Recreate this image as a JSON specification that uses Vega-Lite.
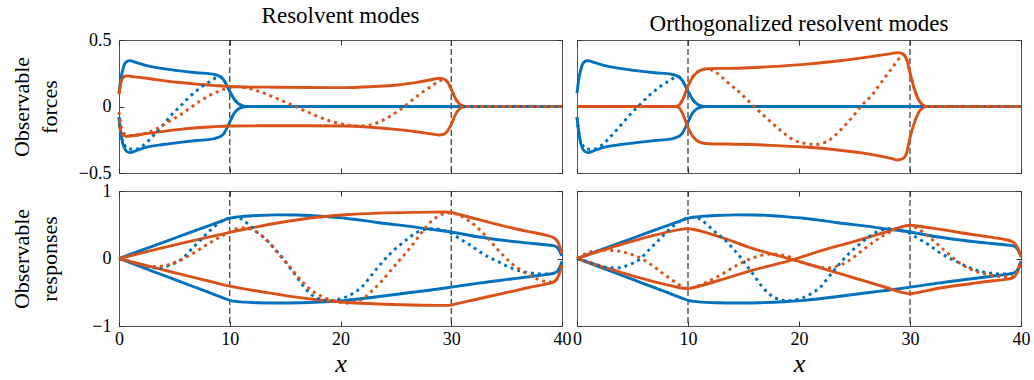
{
  "$schema": "https://vega.github.io/schema/vega-lite/v6.json",
  "background": "white",
  "padding": {"left": 9, "top": 4, "right": 5, "bottom": 0},
  "config": {
    "font": "Liberation Serif, Times New Roman, Times, serif",
    "view": {"stroke": "#555555", "strokeWidth": 1},
    "title": {"font": "Liberation Serif, Times New Roman, Times, serif", "fontSize": 23, "fontWeight": "normal", "color": "#000000", "offset": 3},
    "axis": {
      "domain": false, "grid": false,
      "tickColor": "#333333", "tickSize": -5, "tickWidth": 1,
      "labelFont": "Liberation Serif, Times New Roman, Times, serif", "labelFontSize": 18, "labelColor": "#000000", "labelPadding": 13,
      "labelOverlap": false, "labelFlush": false,
      "titleFont": "Liberation Serif, Times New Roman, Times, serif", "titleFontSize": 22, "titleFontWeight": "normal", "titleColor": "#000000", "titleLineHeight": 28
    },
    "line": {"strokeWidth": 2.9, "strokeCap": "butt", "strokeJoin": "round", "interpolate": "monotone"}
  },
  "datasets": {
    "vl": [{"x": 10}, {"x": 30}],
    "fb": [
      {"s":"u","x":0,"y":0.1},{"s":"u","x":0.15,"y":0.2},{"s":"u","x":0.35,"y":0.28},{"s":"u","x":0.6,"y":0.33},{"s":"u","x":0.95,"y":0.345},{"s":"u","x":1.5,"y":0.332},{"s":"u","x":2.5,"y":0.307},{"s":"u","x":4,"y":0.285},{"s":"u","x":5.5,"y":0.268},{"s":"u","x":7,"y":0.254},{"s":"u","x":8.5,"y":0.243},{"s":"u","x":9.1,"y":0.226},{"s":"u","x":9.45,"y":0.2},{"s":"u","x":9.7,"y":0.165},{"s":"u","x":10,"y":0.115},{"s":"u","x":10.4,"y":0.055},{"s":"u","x":10.8,"y":0.02},{"s":"u","x":11.2,"y":0.005},{"s":"u","x":11.6,"y":0},{"s":"u","x":40,"y":0},
      {"s":"l","x":0,"y":-0.08},{"s":"l","x":0.15,"y":-0.19},{"s":"l","x":0.35,"y":-0.28},{"s":"l","x":0.6,"y":-0.33},{"s":"l","x":0.95,"y":-0.347},{"s":"l","x":1.5,"y":-0.333},{"s":"l","x":2.5,"y":-0.306},{"s":"l","x":4,"y":-0.286},{"s":"l","x":5.5,"y":-0.27},{"s":"l","x":7,"y":-0.256},{"s":"l","x":8.5,"y":-0.243},{"s":"l","x":9.1,"y":-0.228},{"s":"l","x":9.45,"y":-0.205},{"s":"l","x":9.7,"y":-0.17},{"s":"l","x":10,"y":-0.118},{"s":"l","x":10.4,"y":-0.05},{"s":"l","x":10.8,"y":-0.018},{"s":"l","x":11.2,"y":-0.004},{"s":"l","x":11.6,"y":0},{"s":"l","x":40,"y":0},
      {"s":"d","x":0,"y":-0.08},{"s":"d","x":0.2,"y":-0.22},{"s":"d","x":0.5,"y":-0.29},{"s":"d","x":0.9,"y":-0.32},{"s":"d","x":1.5,"y":-0.322},{"s":"d","x":2.3,"y":-0.285},{"s":"d","x":3.2,"y":-0.21},{"s":"d","x":4,"y":-0.135},{"s":"d","x":4.9,"y":-0.05},{"s":"d","x":5.5,"y":0},{"s":"d","x":6.4,"y":0.075},{"s":"d","x":7.3,"y":0.138},{"s":"d","x":8.2,"y":0.188},{"s":"d","x":9.1,"y":0.226},{"s":"d","x":9.45,"y":0.2},{"s":"d","x":9.7,"y":0.165},{"s":"d","x":10,"y":0.115},{"s":"d","x":10.4,"y":0.055},{"s":"d","x":10.8,"y":0.02},{"s":"d","x":11.2,"y":0.005},{"s":"d","x":11.6,"y":0},{"s":"d","x":40,"y":0}
    ],
    "fo1": [
      {"s":"u","x":0,"y":0.09},{"s":"u","x":0.2,"y":0.19},{"s":"u","x":0.45,"y":0.225},{"s":"u","x":0.7,"y":0.23},{"s":"u","x":1.2,"y":0.225},{"s":"u","x":2.5,"y":0.212},{"s":"u","x":4,"y":0.195},{"s":"u","x":5.5,"y":0.18},{"s":"u","x":7,"y":0.168},{"s":"u","x":8.5,"y":0.159},{"s":"u","x":10,"y":0.15},{"s":"u","x":12,"y":0.146},{"s":"u","x":14.3,"y":0.145},{"s":"u","x":17,"y":0.143},{"s":"u","x":20.4,"y":0.142},{"s":"u","x":23,"y":0.15},{"s":"u","x":25,"y":0.16},{"s":"u","x":27,"y":0.183},{"s":"u","x":28.3,"y":0.203},{"s":"u","x":28.9,"y":0.212},{"s":"u","x":29.3,"y":0.208},{"s":"u","x":29.65,"y":0.185},{"s":"u","x":30,"y":0.13},{"s":"u","x":30.35,"y":0.065},{"s":"u","x":30.7,"y":0.022},{"s":"u","x":31,"y":0.006},{"s":"u","x":31.3,"y":0},{"s":"u","x":40,"y":0},
      {"s":"l","x":0,"y":-0.12},{"s":"l","x":0.2,"y":-0.2},{"s":"l","x":0.45,"y":-0.22},{"s":"l","x":0.7,"y":-0.225},{"s":"l","x":1.2,"y":-0.22},{"s":"l","x":2.5,"y":-0.204},{"s":"l","x":4,"y":-0.187},{"s":"l","x":5.5,"y":-0.172},{"s":"l","x":7,"y":-0.16},{"s":"l","x":8.5,"y":-0.152},{"s":"l","x":10,"y":-0.147},{"s":"l","x":14,"y":-0.145},{"s":"l","x":20.4,"y":-0.147},{"s":"l","x":23,"y":-0.158},{"s":"l","x":25,"y":-0.172},{"s":"l","x":27,"y":-0.192},{"s":"l","x":28.3,"y":-0.207},{"s":"l","x":28.9,"y":-0.214},{"s":"l","x":29.3,"y":-0.21},{"s":"l","x":29.65,"y":-0.185},{"s":"l","x":30,"y":-0.135},{"s":"l","x":30.35,"y":-0.065},{"s":"l","x":30.7,"y":-0.022},{"s":"l","x":31,"y":-0.006},{"s":"l","x":31.3,"y":0},{"s":"l","x":40,"y":0},
      {"s":"d","x":0,"y":-0.04},{"s":"d","x":0.15,"y":-0.13},{"s":"d","x":0.35,"y":-0.19},{"s":"d","x":0.7,"y":-0.215},{"s":"d","x":1.2,"y":-0.218},{"s":"d","x":1.9,"y":-0.212},{"s":"d","x":2.8,"y":-0.19},{"s":"d","x":3.7,"y":-0.154},{"s":"d","x":4.6,"y":-0.109},{"s":"d","x":5.5,"y":-0.064},{"s":"d","x":6.4,"y":-0.012},{"s":"d","x":7.3,"y":0.04},{"s":"d","x":8.2,"y":0.084},{"s":"d","x":9.1,"y":0.118},{"s":"d","x":10,"y":0.142},{"s":"d","x":10.6,"y":0.15},{"s":"d","x":11.3,"y":0.143},{"s":"d","x":12.8,"y":0.109},{"s":"d","x":14.3,"y":0.059},{"s":"d","x":15.8,"y":0.004},{"s":"d","x":17.3,"y":-0.051},{"s":"d","x":18.9,"y":-0.105},{"s":"d","x":20.4,"y":-0.137},{"s":"d","x":21.5,"y":-0.147},{"s":"d","x":22.5,"y":-0.142},{"s":"d","x":24,"y":-0.096},{"s":"d","x":25.2,"y":-0.034},{"s":"d","x":25.8,"y":0.002},{"s":"d","x":27,"y":0.084},{"s":"d","x":28.2,"y":0.152},{"s":"d","x":29,"y":0.195},{"s":"d","x":29.35,"y":0.205},{"s":"d","x":29.65,"y":0.185},{"s":"d","x":30,"y":0.13},{"s":"d","x":30.35,"y":0.065},{"s":"d","x":30.7,"y":0.022},{"s":"d","x":31,"y":0.006},{"s":"d","x":31.3,"y":0},{"s":"d","x":40,"y":0}
    ],
    "fo2": [
      {"s":"u","x":0,"y":0},{"s":"u","x":8.9,"y":0},{"s":"u","x":9.2,"y":0.01},{"s":"u","x":9.6,"y":0.066},{"s":"u","x":10,"y":0.154},{"s":"u","x":10.5,"y":0.23},{"s":"u","x":11.1,"y":0.272},{"s":"u","x":11.8,"y":0.285},{"s":"u","x":14.5,"y":0.288},{"s":"u","x":17.5,"y":0.3},{"s":"u","x":20.5,"y":0.317},{"s":"u","x":23.5,"y":0.342},{"s":"u","x":26.5,"y":0.375},{"s":"u","x":28.3,"y":0.398},{"s":"u","x":28.9,"y":0.405},{"s":"u","x":29.3,"y":0.398},{"s":"u","x":29.7,"y":0.355},{"s":"u","x":30,"y":0.254},{"s":"u","x":30.45,"y":0.117},{"s":"u","x":30.9,"y":0.034},{"s":"u","x":31.5,"y":0},{"s":"u","x":40,"y":0},
      {"s":"l","x":0,"y":0},{"s":"l","x":8.9,"y":0},{"s":"l","x":9.2,"y":-0.01},{"s":"l","x":9.6,"y":-0.07},{"s":"l","x":10,"y":-0.158},{"s":"l","x":10.5,"y":-0.233},{"s":"l","x":11.1,"y":-0.27},{"s":"l","x":11.8,"y":-0.28},{"s":"l","x":14.5,"y":-0.284},{"s":"l","x":17.5,"y":-0.292},{"s":"l","x":20.5,"y":-0.305},{"s":"l","x":23.5,"y":-0.327},{"s":"l","x":26.5,"y":-0.36},{"s":"l","x":28.3,"y":-0.39},{"s":"l","x":28.9,"y":-0.402},{"s":"l","x":29.3,"y":-0.395},{"s":"l","x":29.7,"y":-0.347},{"s":"l","x":30,"y":-0.234},{"s":"l","x":30.45,"y":-0.109},{"s":"l","x":30.9,"y":-0.029},{"s":"l","x":31.5,"y":0},{"s":"l","x":40,"y":0},
      {"s":"d","x":0,"y":0},{"s":"d","x":8.9,"y":0},{"s":"d","x":9.2,"y":0.01},{"s":"d","x":9.6,"y":0.066},{"s":"d","x":10,"y":0.154},{"s":"d","x":10.5,"y":0.23},{"s":"d","x":11.1,"y":0.272},{"s":"d","x":11.7,"y":0.283},{"s":"d","x":12.4,"y":0.262},{"s":"d","x":13,"y":0.225},{"s":"d","x":13.6,"y":0.179},{"s":"d","x":14.5,"y":0.117},{"s":"d","x":15.9,"y":0.004},{"s":"d","x":17.2,"y":-0.096},{"s":"d","x":18.4,"y":-0.184},{"s":"d","x":19.6,"y":-0.255},{"s":"d","x":20.5,"y":-0.277},{"s":"d","x":21.5,"y":-0.285},{"s":"d","x":22.6,"y":-0.259},{"s":"d","x":23.8,"y":-0.172},{"s":"d","x":25,"y":-0.059},{"s":"d","x":25.6,"y":0.004},{"s":"d","x":26.5,"y":0.079},{"s":"d","x":27.4,"y":0.179},{"s":"d","x":28.3,"y":0.28},{"s":"d","x":29.1,"y":0.367},{"s":"d","x":29.4,"y":0.39},{"s":"d","x":29.7,"y":0.355},{"s":"d","x":30,"y":0.254},{"s":"d","x":30.45,"y":0.117},{"s":"d","x":30.9,"y":0.034},{"s":"d","x":31.5,"y":0},{"s":"d","x":40,"y":0}
    ],
    "rb": [
      {"s":"u","x":0,"y":0},{"s":"u","x":2,"y":0.12},{"s":"u","x":4,"y":0.24},{"s":"u","x":6,"y":0.36},{"s":"u","x":8,"y":0.48},{"s":"u","x":9.5,"y":0.57},{"s":"u","x":10,"y":0.598},{"s":"u","x":10.5,"y":0.612},{"s":"u","x":11.3,"y":0.625},{"s":"u","x":12.5,"y":0.637},{"s":"u","x":14.3,"y":0.646},{"s":"u","x":16,"y":0.645},{"s":"u","x":17.3,"y":0.638},{"s":"u","x":19,"y":0.617},{"s":"u","x":20.4,"y":0.596},{"s":"u","x":22,"y":0.565},{"s":"u","x":23.5,"y":0.53},{"s":"u","x":26.3,"y":0.475},{"s":"u","x":28,"y":0.435},{"s":"u","x":30,"y":0.393},{"s":"u","x":32.4,"y":0.322},{"s":"u","x":35.4,"y":0.256},{"s":"u","x":37,"y":0.228},{"s":"u","x":38.5,"y":0.203},{"s":"u","x":39.2,"y":0.19},{"s":"u","x":39.55,"y":0.165},{"s":"u","x":39.75,"y":0.12},{"s":"u","x":39.9,"y":0.07},{"s":"u","x":40,"y":0.04},
      {"s":"l","x":0,"y":0},{"s":"l","x":2,"y":-0.124},{"s":"l","x":4,"y":-0.248},{"s":"l","x":6,"y":-0.372},{"s":"l","x":8,"y":-0.496},{"s":"l","x":9.5,"y":-0.59},{"s":"l","x":10,"y":-0.62},{"s":"l","x":10.5,"y":-0.635},{"s":"l","x":11.3,"y":-0.647},{"s":"l","x":12.5,"y":-0.655},{"s":"l","x":14.5,"y":-0.659},{"s":"l","x":16.5,"y":-0.655},{"s":"l","x":19,"y":-0.637},{"s":"l","x":20.5,"y":-0.62},{"s":"l","x":23.5,"y":-0.563},{"s":"l","x":26.5,"y":-0.5},{"s":"l","x":28,"y":-0.47},{"s":"l","x":30,"y":-0.425},{"s":"l","x":32.5,"y":-0.365},{"s":"l","x":35.4,"y":-0.304},{"s":"l","x":37,"y":-0.27},{"s":"l","x":38.5,"y":-0.238},{"s":"l","x":39.2,"y":-0.22},{"s":"l","x":39.55,"y":-0.195},{"s":"l","x":39.75,"y":-0.15},{"s":"l","x":39.9,"y":-0.09},{"s":"l","x":40,"y":-0.05},
      {"s":"d","x":0,"y":0},{"s":"d","x":0.8,"y":-0.04},{"s":"d","x":1.7,"y":-0.09},{"s":"d","x":2.9,"y":-0.135},{"s":"d","x":3.8,"y":-0.138},{"s":"d","x":4.7,"y":-0.09},{"s":"d","x":5.6,"y":-0.017},{"s":"d","x":6.5,"y":0.131},{"s":"d","x":7.4,"y":0.279},{"s":"d","x":8.3,"y":0.427},{"s":"d","x":9.2,"y":0.545},{"s":"d","x":10,"y":0.6},{"s":"d","x":10.6,"y":0.612},{"s":"d","x":11.2,"y":0.57},{"s":"d","x":11.8,"y":0.49},{"s":"d","x":12.4,"y":0.4},{"s":"d","x":13,"y":0.32},{"s":"d","x":13.6,"y":0.23},{"s":"d","x":14.2,"y":0.12},{"s":"d","x":14.8,"y":0.005},{"s":"d","x":15.4,"y":-0.13},{"s":"d","x":16,"y":-0.264},{"s":"d","x":16.6,"y":-0.4},{"s":"d","x":17.2,"y":-0.51},{"s":"d","x":17.8,"y":-0.58},{"s":"d","x":18.4,"y":-0.615},{"s":"d","x":19,"y":-0.627},{"s":"d","x":19.6,"y":-0.612},{"s":"d","x":20.2,"y":-0.59},{"s":"d","x":20.8,"y":-0.546},{"s":"d","x":21.4,"y":-0.49},{"s":"d","x":22,"y":-0.412},{"s":"d","x":22.6,"y":-0.29},{"s":"d","x":23.2,"y":-0.165},{"s":"d","x":23.8,"y":-0.05},{"s":"d","x":24.4,"y":0.057},{"s":"d","x":25,"y":0.15},{"s":"d","x":25.6,"y":0.23},{"s":"d","x":26.2,"y":0.31},{"s":"d","x":26.8,"y":0.378},{"s":"d","x":27.4,"y":0.42},{"s":"d","x":28,"y":0.44},{"s":"d","x":28.6,"y":0.44},{"s":"d","x":29.2,"y":0.42},{"s":"d","x":30,"y":0.37},{"s":"d","x":31,"y":0.27},{"s":"d","x":31.8,"y":0.19},{"s":"d","x":32.7,"y":0.085},{"s":"d","x":33.5,"y":0.01},{"s":"d","x":34.2,"y":-0.045},{"s":"d","x":35.4,"y":-0.14},{"s":"d","x":36.5,"y":-0.195},{"s":"d","x":37.5,"y":-0.22},{"s":"d","x":38.5,"y":-0.23},{"s":"d","x":39.2,"y":-0.22},{"s":"d","x":39.55,"y":-0.195},{"s":"d","x":39.75,"y":-0.15},{"s":"d","x":39.9,"y":-0.09},{"s":"d","x":40,"y":-0.05}
    ],
    "ro1": [
      {"s":"u","x":0,"y":0},{"s":"u","x":2,"y":0.08},{"s":"u","x":4,"y":0.16},{"s":"u","x":6,"y":0.238},{"s":"u","x":8,"y":0.314},{"s":"u","x":10,"y":0.388},{"s":"u","x":12,"y":0.455},{"s":"u","x":14.3,"y":0.526},{"s":"u","x":17.3,"y":0.6},{"s":"u","x":20.4,"y":0.648},{"s":"u","x":23.4,"y":0.672},{"s":"u","x":26.4,"y":0.684},{"s":"u","x":29.5,"y":0.688},{"s":"u","x":30,"y":0.683},{"s":"u","x":30.5,"y":0.662},{"s":"u","x":32.4,"y":0.58},{"s":"u","x":35.4,"y":0.455},{"s":"u","x":37,"y":0.398},{"s":"u","x":38.5,"y":0.348},{"s":"u","x":39.2,"y":0.31},{"s":"u","x":39.55,"y":0.265},{"s":"u","x":39.75,"y":0.2},{"s":"u","x":39.9,"y":0.12},{"s":"u","x":40,"y":0.075},
      {"s":"l","x":0,"y":0},{"s":"l","x":2,"y":-0.085},{"s":"l","x":4,"y":-0.168},{"s":"l","x":6,"y":-0.25},{"s":"l","x":8,"y":-0.33},{"s":"l","x":10,"y":-0.41},{"s":"l","x":12,"y":-0.47},{"s":"l","x":14.3,"y":-0.53},{"s":"l","x":17.3,"y":-0.6},{"s":"l","x":20.4,"y":-0.648},{"s":"l","x":23.4,"y":-0.674},{"s":"l","x":26.4,"y":-0.688},{"s":"l","x":29.5,"y":-0.695},{"s":"l","x":30,"y":-0.69},{"s":"l","x":30.5,"y":-0.668},{"s":"l","x":32.4,"y":-0.6},{"s":"l","x":35.4,"y":-0.49},{"s":"l","x":37,"y":-0.43},{"s":"l","x":38.5,"y":-0.38},{"s":"l","x":39.2,"y":-0.35},{"s":"l","x":39.55,"y":-0.3},{"s":"l","x":39.75,"y":-0.23},{"s":"l","x":39.9,"y":-0.15},{"s":"l","x":40,"y":-0.1},
      {"s":"d","x":0,"y":0},{"s":"d","x":0.8,"y":-0.04},{"s":"d","x":1.7,"y":-0.085},{"s":"d","x":2.9,"y":-0.12},{"s":"d","x":4.1,"y":-0.106},{"s":"d","x":5.3,"y":-0.042},{"s":"d","x":6.5,"y":0.057},{"s":"d","x":7.7,"y":0.18},{"s":"d","x":8.9,"y":0.3},{"s":"d","x":10,"y":0.39},{"s":"d","x":10.5,"y":0.435},{"s":"d","x":11,"y":0.455},{"s":"d","x":11.5,"y":0.45},{"s":"d","x":12.1,"y":0.42},{"s":"d","x":12.8,"y":0.353},{"s":"d","x":13.7,"y":0.205},{"s":"d","x":14.6,"y":0.032},{"s":"d","x":15.5,"y":-0.141},{"s":"d","x":16.4,"y":-0.314},{"s":"d","x":17.3,"y":-0.462},{"s":"d","x":18.3,"y":-0.56},{"s":"d","x":19.2,"y":-0.62},{"s":"d","x":20.1,"y":-0.653},{"s":"d","x":20.8,"y":-0.662},{"s":"d","x":21.5,"y":-0.64},{"s":"d","x":22.2,"y":-0.575},{"s":"d","x":22.8,"y":-0.486},{"s":"d","x":23.7,"y":-0.338},{"s":"d","x":24.6,"y":-0.165},{"s":"d","x":25.5,"y":0.007},{"s":"d","x":26.4,"y":0.18},{"s":"d","x":27.3,"y":0.378},{"s":"d","x":28.2,"y":0.551},{"s":"d","x":29.1,"y":0.649},{"s":"d","x":29.7,"y":0.675},{"s":"d","x":30.3,"y":0.665},{"s":"d","x":30.9,"y":0.625},{"s":"d","x":31.8,"y":0.536},{"s":"d","x":33,"y":0.353},{"s":"d","x":34.2,"y":0.131},{"s":"d","x":35.4,"y":-0.067},{"s":"d","x":36.6,"y":-0.205},{"s":"d","x":37.8,"y":-0.304},{"s":"d","x":38.7,"y":-0.345},{"s":"d","x":39.2,"y":-0.35},{"s":"d","x":39.55,"y":-0.3},{"s":"d","x":39.75,"y":-0.23},{"s":"d","x":39.9,"y":-0.15},{"s":"d","x":40,"y":-0.1}
    ],
    "ro2": [
      {"s":"u","x":0,"y":0},{"s":"u","x":1,"y":0.055},{"s":"u","x":2.5,"y":0.133},{"s":"u","x":4,"y":0.21},{"s":"u","x":5.5,"y":0.28},{"s":"u","x":7,"y":0.345},{"s":"u","x":8.5,"y":0.405},{"s":"u","x":9.5,"y":0.435},{"s":"u","x":10,"y":0.442},{"s":"u","x":10.5,"y":0.43},{"s":"u","x":13,"y":0.314},{"s":"u","x":16,"y":0.14},{"s":"u","x":19.5,"y":-0.02},{"s":"u","x":22,"y":-0.141},{"s":"u","x":25,"y":-0.289},{"s":"u","x":28,"y":-0.437},{"s":"u","x":29.5,"y":-0.51},{"s":"u","x":30,"y":-0.522},{"s":"u","x":30.5,"y":-0.51},{"s":"u","x":32.6,"y":-0.44},{"s":"u","x":35.6,"y":-0.37},{"s":"u","x":37.5,"y":-0.33},{"s":"u","x":38.6,"y":-0.31},{"s":"u","x":39.2,"y":-0.29},{"s":"u","x":39.55,"y":-0.24},{"s":"u","x":39.8,"y":-0.15},{"s":"u","x":39.95,"y":-0.07},{"s":"u","x":40,"y":-0.04},
      {"s":"l","x":0,"y":0},{"s":"l","x":1,"y":-0.053},{"s":"l","x":2.5,"y":-0.133},{"s":"l","x":4,"y":-0.208},{"s":"l","x":5.5,"y":-0.28},{"s":"l","x":7,"y":-0.345},{"s":"l","x":8.5,"y":-0.405},{"s":"l","x":9.5,"y":-0.44},{"s":"l","x":10,"y":-0.447},{"s":"l","x":10.5,"y":-0.43},{"s":"l","x":13,"y":-0.314},{"s":"l","x":16,"y":-0.165},{"s":"l","x":19.5,"y":-0.017},{"s":"l","x":22,"y":0.116},{"s":"l","x":25,"y":0.254},{"s":"l","x":28,"y":0.402},{"s":"l","x":29.5,"y":0.48},{"s":"l","x":30,"y":0.495},{"s":"l","x":30.5,"y":0.485},{"s":"l","x":32.6,"y":0.435},{"s":"l","x":35.6,"y":0.355},{"s":"l","x":37.5,"y":0.31},{"s":"l","x":38.6,"y":0.28},{"s":"l","x":39.2,"y":0.25},{"s":"l","x":39.55,"y":0.2},{"s":"l","x":39.8,"y":0.12},{"s":"l","x":39.95,"y":0.05},{"s":"l","x":40,"y":0.02},
      {"s":"d","x":0,"y":0},{"s":"d","x":0.6,"y":0.06},{"s":"d","x":1.3,"y":0.1},{"s":"d","x":2.5,"y":0.125},{"s":"d","x":3.5,"y":0.115},{"s":"d","x":4.5,"y":0.08},{"s":"d","x":5.5,"y":0.025},{"s":"d","x":6.3,"y":-0.05},{"s":"d","x":7,"y":-0.13},{"s":"d","x":7.8,"y":-0.23},{"s":"d","x":8.5,"y":-0.31},{"s":"d","x":9.2,"y":-0.39},{"s":"d","x":10,"y":-0.445},{"s":"d","x":10.5,"y":-0.43},{"s":"d","x":11.5,"y":-0.363},{"s":"d","x":13,"y":-0.24},{"s":"d","x":14.5,"y":-0.091},{"s":"d","x":16,"y":0.017},{"s":"d","x":17.5,"y":0.067},{"s":"d","x":19,"y":0.032},{"s":"d","x":20.5,"y":-0.067},{"s":"d","x":22,"y":-0.131},{"s":"d","x":22.6,"y":-0.14},{"s":"d","x":23.2,"y":-0.125},{"s":"d","x":24.4,"y":-0.042},{"s":"d","x":25.6,"y":0.106},{"s":"d","x":26.8,"y":0.254},{"s":"d","x":28,"y":0.378},{"s":"d","x":29.2,"y":0.462},{"s":"d","x":30,"y":0.485},{"s":"d","x":30.8,"y":0.43},{"s":"d","x":32,"y":0.28},{"s":"d","x":33.2,"y":0.106},{"s":"d","x":34.4,"y":-0.06},{"s":"d","x":35.6,"y":-0.17},{"s":"d","x":37.1,"y":-0.24},{"s":"d","x":38.6,"y":-0.27},{"s":"d","x":39.2,"y":-0.27},{"s":"d","x":39.55,"y":-0.23},{"s":"d","x":39.8,"y":-0.14},{"s":"d","x":39.95,"y":-0.06},{"s":"d","x":40,"y":-0.03}
    ]
  },
  "columns": 2,
  "bounds": "flush",
  "align": "all",
  "spacing": {"row": 16, "column": 14},
  "concat": [
    {
      "width": 443, "height": 133,
      "title": {"text": "Resolvent modes"},
      "resolve": {"axis": {"x": "independent", "y": "independent"}},
      "layer": [
        {"data": {"name": "vl"}, "mark": {"type": "rule", "strokeDash": [6, 3], "color": "#333333", "strokeWidth": 1.2},
         "encoding": {"x": {"field": "x", "type": "quantitative", "scale": {"domain": [0, 40], "nice": false}, "axis": null}}},
        {"data": {"name": "fb"}, "transform": [{"filter": "datum.s != 'd'"}], "mark": {"type": "line", "color": "#0072BD"},
         "encoding": {
           "x": {"field": "x", "type": "quantitative", "axis": {"orient": "bottom", "values": [0, 10, 20, 30, 40], "labels": false, "title": null}},
           "y": {"field": "y", "type": "quantitative", "scale": {"domain": [-0.5, 0.5], "nice": false}, "axis": {"orient": "left", "values": [-0.5, 0, 0.5], "format": "~g", "title": ["Observable", "forces"], "titlePadding": 17}},
           "detail": {"field": "s"}}},
        {"data": {"name": "fo1"}, "transform": [{"filter": "datum.s != 'd'"}], "mark": {"type": "line", "color": "#D95319"},
         "encoding": {
           "x": {"field": "x", "type": "quantitative", "axis": {"orient": "top", "values": [0, 10, 20, 30, 40], "labels": false, "title": null}},
           "y": {"field": "y", "type": "quantitative", "axis": {"orient": "right", "values": [-0.5, 0, 0.5], "labels": false, "title": null}},
           "detail": {"field": "s"}}},
        {"data": {"name": "fb"}, "transform": [{"filter": "datum.s == 'd'"}], "mark": {"type": "line", "color": "#0072BD", "strokeDash": [3, 4]},
         "encoding": {"x": {"field": "x", "type": "quantitative", "axis": null}, "y": {"field": "y", "type": "quantitative", "axis": null}}},
        {"data": {"name": "fo1"}, "transform": [{"filter": "datum.s == 'd'"}], "mark": {"type": "line", "color": "#D95319", "strokeDash": [3, 4]},
         "encoding": {"x": {"field": "x", "type": "quantitative", "axis": null}, "y": {"field": "y", "type": "quantitative", "axis": null}}}
      ]
    },
    {
      "width": 444, "height": 133,
      "title": {"text": "Orthogonalized resolvent modes"},
      "resolve": {"axis": {"x": "independent", "y": "independent"}},
      "layer": [
        {"data": {"name": "vl"}, "mark": {"type": "rule", "strokeDash": [6, 3], "color": "#333333", "strokeWidth": 1.2},
         "encoding": {"x": {"field": "x", "type": "quantitative", "scale": {"domain": [0, 40], "nice": false}, "axis": null}}},
        {"data": {"name": "fb"}, "transform": [{"filter": "datum.s != 'd'"}], "mark": {"type": "line", "color": "#0072BD"},
         "encoding": {
           "x": {"field": "x", "type": "quantitative", "axis": {"orient": "bottom", "values": [0, 10, 20, 30, 40], "labels": false, "title": null}},
           "y": {"field": "y", "type": "quantitative", "scale": {"domain": [-0.5, 0.5], "nice": false}, "axis": {"orient": "left", "values": [-0.5, 0, 0.5], "labels": false, "title": null}},
           "detail": {"field": "s"}}},
        {"data": {"name": "fo2"}, "transform": [{"filter": "datum.s != 'd'"}], "mark": {"type": "line", "color": "#D95319"},
         "encoding": {
           "x": {"field": "x", "type": "quantitative", "axis": {"orient": "top", "values": [0, 10, 20, 30, 40], "labels": false, "title": null}},
           "y": {"field": "y", "type": "quantitative", "axis": {"orient": "right", "values": [-0.5, 0, 0.5], "labels": false, "title": null}},
           "detail": {"field": "s"}}},
        {"data": {"name": "fb"}, "transform": [{"filter": "datum.s == 'd'"}], "mark": {"type": "line", "color": "#0072BD", "strokeDash": [3, 4]},
         "encoding": {"x": {"field": "x", "type": "quantitative", "axis": null}, "y": {"field": "y", "type": "quantitative", "axis": null}}},
        {"data": {"name": "fo2"}, "transform": [{"filter": "datum.s == 'd'"}], "mark": {"type": "line", "color": "#D95319", "strokeDash": [3, 4]},
         "encoding": {"x": {"field": "x", "type": "quantitative", "axis": null}, "y": {"field": "y", "type": "quantitative", "axis": null}}}
      ]
    },
    {
      "width": 443, "height": 135,
      "resolve": {"axis": {"x": "independent", "y": "independent"}},
      "layer": [
        {"data": {"name": "vl"}, "mark": {"type": "rule", "strokeDash": [6, 3], "color": "#333333", "strokeWidth": 1.2},
         "encoding": {"x": {"field": "x", "type": "quantitative", "scale": {"domain": [0, 40], "nice": false}, "axis": null}}},
        {"data": {"name": "rb"}, "transform": [{"filter": "datum.s != 'd'"}], "mark": {"type": "line", "color": "#0072BD"},
         "encoding": {
           "x": {"field": "x", "type": "quantitative", "axis": {"orient": "bottom", "values": [0, 10, 20, 30, 40], "format": "d", "labelPadding": 9, "title": "x", "titleFontStyle": "italic", "titleFontSize": 26, "titlePadding": 2}},
           "y": {"field": "y", "type": "quantitative", "scale": {"domain": [-1, 1], "nice": false}, "axis": {"orient": "left", "values": [-1, 0, 1], "format": "~g", "title": ["Observable", "responses"], "titlePadding": 30}},
           "detail": {"field": "s"}}},
        {"data": {"name": "ro1"}, "transform": [{"filter": "datum.s != 'd'"}], "mark": {"type": "line", "color": "#D95319"},
         "encoding": {
           "x": {"field": "x", "type": "quantitative", "axis": {"orient": "top", "values": [0, 10, 20, 30, 40], "labels": false, "title": null}},
           "y": {"field": "y", "type": "quantitative", "axis": {"orient": "right", "values": [-1, 0, 1], "labels": false, "title": null}},
           "detail": {"field": "s"}}},
        {"data": {"name": "rb"}, "transform": [{"filter": "datum.s == 'd'"}], "mark": {"type": "line", "color": "#0072BD", "strokeDash": [3, 4]},
         "encoding": {"x": {"field": "x", "type": "quantitative", "axis": null}, "y": {"field": "y", "type": "quantitative", "axis": null}}},
        {"data": {"name": "ro1"}, "transform": [{"filter": "datum.s == 'd'"}], "mark": {"type": "line", "color": "#D95319", "strokeDash": [3, 4]},
         "encoding": {"x": {"field": "x", "type": "quantitative", "axis": null}, "y": {"field": "y", "type": "quantitative", "axis": null}}}
      ]
    },
    {
      "width": 444, "height": 135,
      "resolve": {"axis": {"x": "independent", "y": "independent"}},
      "layer": [
        {"data": {"name": "vl"}, "mark": {"type": "rule", "strokeDash": [6, 3], "color": "#333333", "strokeWidth": 1.2},
         "encoding": {"x": {"field": "x", "type": "quantitative", "scale": {"domain": [0, 40], "nice": false}, "axis": null}}},
        {"data": {"name": "rb"}, "transform": [{"filter": "datum.s != 'd'"}], "mark": {"type": "line", "color": "#0072BD"},
         "encoding": {
           "x": {"field": "x", "type": "quantitative", "axis": {"orient": "bottom", "values": [0, 10, 20, 30, 40], "format": "d", "labelPadding": 9, "title": "x", "titleFontStyle": "italic", "titleFontSize": 26, "titlePadding": 2}},
           "y": {"field": "y", "type": "quantitative", "scale": {"domain": [-1, 1], "nice": false}, "axis": {"orient": "left", "values": [-1, 0, 1], "labels": false, "title": null}},
           "detail": {"field": "s"}}},
        {"data": {"name": "ro2"}, "transform": [{"filter": "datum.s != 'd'"}], "mark": {"type": "line", "color": "#D95319"},
         "encoding": {
           "x": {"field": "x", "type": "quantitative", "axis": {"orient": "top", "values": [0, 10, 20, 30, 40], "labels": false, "title": null}},
           "y": {"field": "y", "type": "quantitative", "axis": {"orient": "right", "values": [-1, 0, 1], "labels": false, "title": null}},
           "detail": {"field": "s"}}},
        {"data": {"name": "rb"}, "transform": [{"filter": "datum.s == 'd'"}], "mark": {"type": "line", "color": "#0072BD", "strokeDash": [3, 4]},
         "encoding": {"x": {"field": "x", "type": "quantitative", "axis": null}, "y": {"field": "y", "type": "quantitative", "axis": null}}},
        {"data": {"name": "ro2"}, "transform": [{"filter": "datum.s == 'd'"}], "mark": {"type": "line", "color": "#D95319", "strokeDash": [3, 4]},
         "encoding": {"x": {"field": "x", "type": "quantitative", "axis": null}, "y": {"field": "y", "type": "quantitative", "axis": null}}}
      ]
    }
  ]
}
